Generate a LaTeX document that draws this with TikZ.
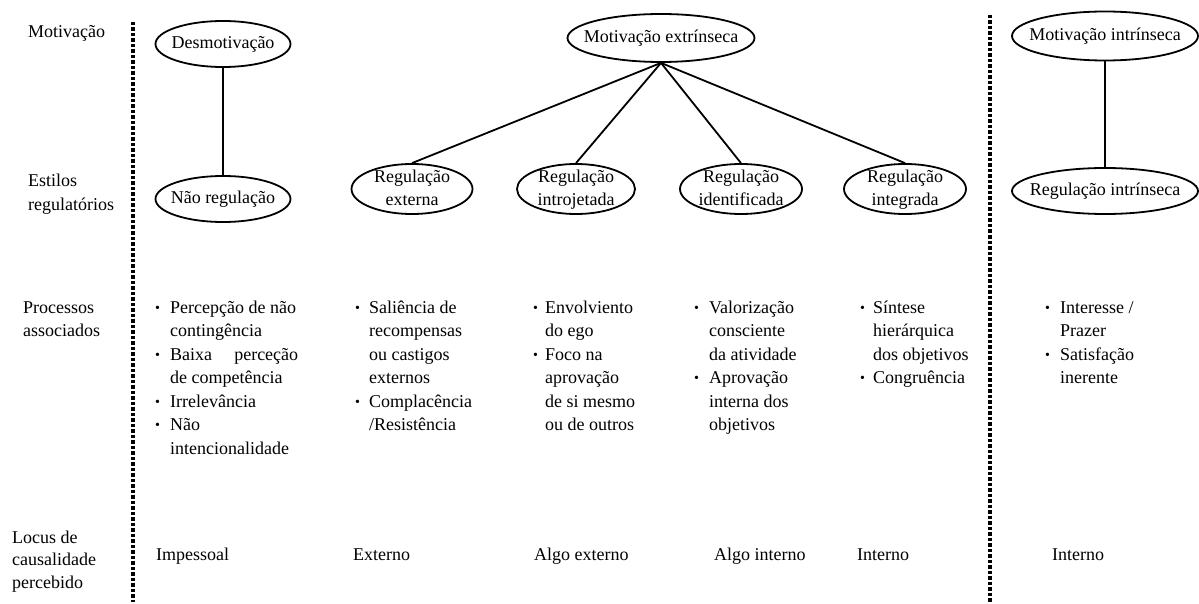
\documentclass[tikz,border=0pt]{standalone}
\usepackage{fontspec}
\setmainfont{Liberation Serif}
\usetikzlibrary{shapes.geometric}

% text set inside an oval without letting it size the oval
\newcommand{\ovaltext}[1]{\smash{\makebox[0pt]{\raisebox{-4.5pt}{\begin{tabular}{@{}c@{}}#1\end{tabular}}}}}
% small round bullet
\newcommand{\bul}{{\fontsize{14}{14}\selectfont\raisebox{0.6pt}{•}}}
% bulleted column: #1 = indent of the text after the bullet
\newcommand{\bitems}[2]{\begin{tabular}[t]{@{}p{#1}@{}l@{}}#2\end{tabular}}
\newcommand{\lines}[1]{\begin{tabular}[t]{@{}l@{}}#1\end{tabular}}

\begin{document}
\begin{tikzpicture}[x=1pt,y=-1pt,
  every node/.style={font=\fontsize{18}{23.5}\selectfont, inner sep=0pt},
  oval/.style 2 args={ellipse, draw, line width=1.8pt, minimum width=#1, minimum height=#2},
  txt/.style={anchor=base west},
  link/.style={line width=1.8pt},
  sep/.style={line width=4pt, dash pattern=on 3.5pt off 2pt}]
\useasboundingbox (0,0) rectangle (1199,604);

% row labels
\node[txt] (lmot) at (28,38) {Motivação};
\node[txt] (lest) at (28,187) {\lines{Estilos\\regulatórios}};
\node[txt] (lpro) at (23,313) {\lines{Processos\\associados}};
\node[txt] (lloc) at (12,543) {\fontsize{18}{22.5}\selectfont\lines{Locus de\\causalidade\\percebido}};

% separators
\draw[sep] (133,22) -- (133,602);
\draw[sep] (990,15) -- (990,602);

% amotivation
\node[oval={135pt}{46pt}] (desm) at (223,44) {\ovaltext{Desmotivação}};
\node[oval={135pt}{46pt}] (naoreg) at (223,199) {\ovaltext{Não regulação}};
\draw[link] (desm.south) -- (naoreg.north);

% extrinsic motivation
\node[oval={187pt}{48pt}] (extr) at (661,38) {\ovaltext{Motivação extrínseca}};
\node[oval={121pt}{50pt}] (rext) at (412,189) {\ovaltext{Regulação\\externa}};
\node[oval={118pt}{50pt}] (rintro) at (576,189) {\ovaltext{Regulação\\introjetada}};
\node[oval={122pt}{50pt}] (rident) at (741,189) {\ovaltext{Regulação\\identificada}};
\node[oval={122pt}{50pt}] (rinteg) at (905,189) {\ovaltext{Regulação\\integrada}};
\foreach \n in {rext,rintro,rident,rinteg}
  \draw[link] (extr.south) -- (\n.north);

% intrinsic motivation
\node[oval={186pt}{49pt}] (intr) at (1105,36) {\ovaltext{Motivação intrínseca}};
\node[oval={186pt}{46pt}] (rintr) at (1105,191) {\ovaltext{Regulação intrínseca}};
\draw[link] (intr.south) -- (rintr.north);

% associated processes
\node[txt] (p1) at (155,313) {\bitems{15pt}{%
  \bul & Percepção de não\\
       & contingência\\
  \bul & \makebox[128pt][s]{Baixa perceção}\\
       & de competência\\
  \bul & Irrelevância\\
  \bul & Não\\
       & intencionalidade}};
\node[txt] (p2) at (355,313) {\bitems{14pt}{%
  \bul & Saliência de\\
       & recompensas\\
       & ou castigos\\
       & externos\\
  \bul & Complacência\\
       & /Resistência}};
\node[txt] (p3) at (533,313) {\bitems{12pt}{%
  \bul & Envolviento\\
       & do ego\\
  \bul & Foco na\\
       & aprovação\\
       & de si mesmo\\
       & ou de outros}};
\node[txt] (p4) at (694,313) {\bitems{15pt}{%
  \bul & Valorização\\
       & consciente\\
       & da atividade\\
  \bul & Aprovação\\
       & interna dos\\
       & objetivos}};
\node[txt] (p5) at (860,313) {\bitems{13pt}{%
  \bul & Síntese\\
       & hierárquica\\
       & dos objetivos\\
  \bul & Congruência}};
\node[txt] (p6) at (1045,313) {\bitems{15pt}{%
  \bul & Interesse /\\
       & Prazer\\
  \bul & Satisfação\\
       & inerente}};

% perceived locus of causality
\node[txt] (c1) at (156,560) {Impessoal};
\node[txt] (c2) at (353,560) {Externo};
\node[txt] (c3) at (534,560) {Algo externo};
\node[txt] (c4) at (714,560) {Algo interno};
\node[txt] (c5) at (857,560) {Interno};
\node[txt] (c6) at (1052,560) {Interno};
\end{tikzpicture}
\end{document}
